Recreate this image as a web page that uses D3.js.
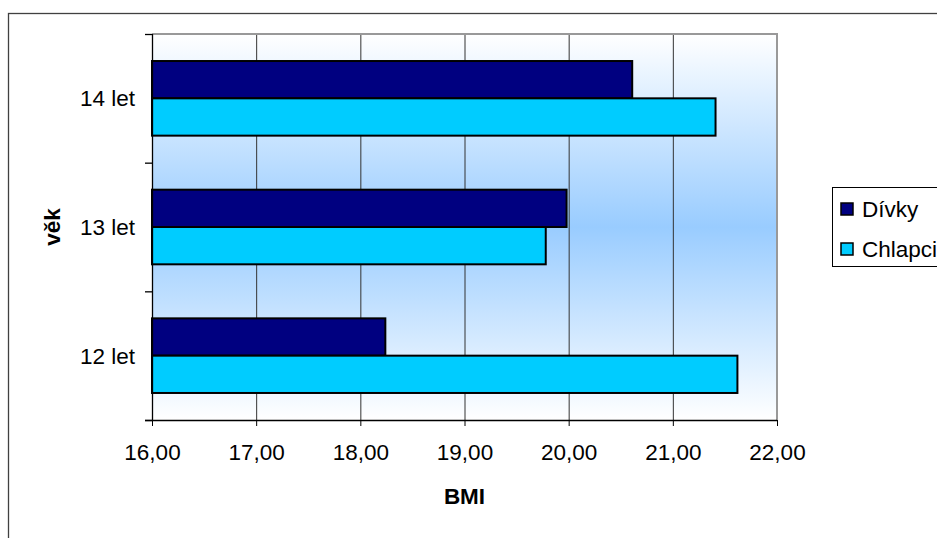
<!DOCTYPE html>
<html>
<head>
<meta charset="utf-8">
<script src="https://cdn.jsdelivr.net/npm/d3@7"></script>
<style>
  html, body { margin: 0; padding: 0; background: #fff; }
  svg { display: block; font-family: "Liberation Sans", Arial, sans-serif; }
</style>
</head>
<body>
<svg id="chart" width="937" height="538"></svg>
<script>
// Age groups, listed top to bottom
const categories = ["14 let", "13 let", "12 let"];
const seriesNames = ["Dívky", "Chlapci"];
const divky   = [20.61, 19.98, 18.24];
const chlapci = [21.41, 19.78, 21.62];
const xTicks = [16, 17, 18, 19, 20, 21, 22];
const colors = ["#000080", "#00CCFF"];

const FS = 22.5;
const svg = d3.select("#chart");
const plot = { left: 152, top: 34, right: 777, bottom: 420 };

// Outer chart frame
svg.append("rect")
  .attr("x", 8.5).attr("y", 13.5)
  .attr("width", 960).attr("height", 560)
  .attr("fill", "#fff").attr("stroke", "#404040").attr("stroke-width", 1.3);

// Plot area background gradient
const defs = svg.append("defs");
const grad = defs.append("linearGradient").attr("id", "bg")
  .attr("x1", 0).attr("y1", 0).attr("x2", 0).attr("y2", 1);
grad.append("stop").attr("offset", "0%").attr("stop-color", "#ffffff");
grad.append("stop").attr("offset", "50%").attr("stop-color", "#99CCFF");
grad.append("stop").attr("offset", "100%").attr("stop-color", "#ffffff");

svg.append("rect")
  .attr("x", plot.left).attr("y", plot.top)
  .attr("width", plot.right - plot.left).attr("height", plot.bottom - plot.top)
  .attr("fill", "url(#bg)");

const x = d3.scaleLinear().domain([16, 22]).range([plot.left, plot.right]);
const y0 = d3.scaleBand().domain(categories).range([plot.top, plot.bottom]);
const bw = y0.bandwidth();
const y1 = d3.scaleBand().domain(seriesNames).range([bw * 0.21, bw * 0.79]);

// Vertical gridlines
svg.append("g").selectAll("line")
  .data(xTicks.slice(1, -1))
  .join("line")
  .attr("x1", d => x(d) + 0.5).attr("x2", d => x(d) + 0.5)
  .attr("y1", plot.top).attr("y2", plot.bottom)
  .attr("stroke", "#333").attr("stroke-width", 1);

// Plot border (top and right)
svg.append("path")
  .attr("d", `M${plot.left},${plot.top}H${plot.right}V${plot.bottom}`)
  .attr("fill", "none").attr("stroke", "#999").attr("stroke-width", 2);

// Bars
const rows = categories.map((c, i) => ({ cat: c, values: [divky[i], chlapci[i]] }));
const groups = svg.append("g").selectAll("g")
  .data(rows).join("g")
  .attr("transform", d => `translate(0,${y0(d.cat)})`);
groups.selectAll("rect")
  .data(d => d.values.map((v, j) => ({ name: seriesNames[j], v, j })))
  .join("rect")
  .attr("x", x(16))
  .attr("y", d => y1(d.name))
  .attr("width", d => x(d.v) - x(16))
  .attr("height", y1.bandwidth())
  .attr("fill", d => colors[d.j])
  .attr("stroke", "#000").attr("stroke-width", 2);

// X axis
const xAxis = svg.append("g")
  .attr("transform", `translate(0,${plot.bottom})`)
  .call(d3.axisBottom(x).tickValues(xTicks).tickSize(6).tickPadding(18)
    .tickFormat(d => d.toFixed(2).replace(".", ",")));
xAxis.select(".domain").attr("stroke", "#000").attr("stroke-width", 1.3)
  .attr("d", `M${plot.left - 7},0.5H${plot.right}`);
xAxis.selectAll(".tick line").attr("stroke", "#000");
xAxis.selectAll("text").attr("font-size", FS).attr("fill", "#000")
  .attr("font-family", "'Liberation Sans', Arial, sans-serif");

// Y axis: line, tick marks at category boundaries, category labels
const yAxis = svg.append("g");
yAxis.append("line")
  .attr("x1", plot.left + 0.5).attr("x2", plot.left + 0.5)
  .attr("y1", plot.top).attr("y2", plot.bottom)
  .attr("stroke", "#000").attr("stroke-width", 1.3);
const bounds = categories.map(c => y0(c)).concat([plot.bottom]);
yAxis.selectAll(".tk").data(bounds).join("line")
  .attr("class", "tk")
  .attr("x1", plot.left - 7).attr("x2", plot.left)
  .attr("y1", d => d + 0.5).attr("y2", d => d + 0.5)
  .attr("stroke", "#000").attr("stroke-width", 1.3);
yAxis.selectAll(".lbl").data(categories).join("text")
  .attr("class", "lbl")
  .attr("x", plot.left - 17)
  .attr("y", d => y0(d) + bw / 2)
  .attr("dy", "0.36em")
  .attr("text-anchor", "end")
  .attr("font-size", FS)
  .text(d => d);

// Axis titles
svg.append("text")
  .attr("x", (plot.left + plot.right) / 2)
  .attr("y", 504)
  .attr("text-anchor", "middle")
  .attr("font-size", FS).attr("font-weight", "bold")
  .text("BMI");
svg.append("text")
  .attr("transform", `translate(60,${(plot.top + plot.bottom) / 2}) rotate(-90)`)
  .attr("text-anchor", "middle")
  .attr("font-size", FS).attr("font-weight", "bold")
  .text("věk");

// Legend
const legend = svg.append("g");
legend.append("rect")
  .attr("x", 832.5).attr("y", 187.5)
  .attr("width", 140).attr("height", 79)
  .attr("fill", "#fff").attr("stroke", "#000").attr("stroke-width", 1);
const items = legend.selectAll(".item").data(seriesNames).join("g")
  .attr("class", "item")
  .attr("transform", (d, i) => `translate(0,${209 + i * 40})`);
items.append("rect")
  .attr("x", 841).attr("y", -6)
  .attr("width", 12).attr("height", 12)
  .attr("fill", (d, i) => colors[i])
  .attr("stroke", "#000").attr("stroke-width", 1.5);
items.append("text")
  .attr("x", 862).attr("y", 0).attr("dy", "0.36em")
  .attr("font-size", FS)
  .text(d => d);
</script>
</body>
</html>
